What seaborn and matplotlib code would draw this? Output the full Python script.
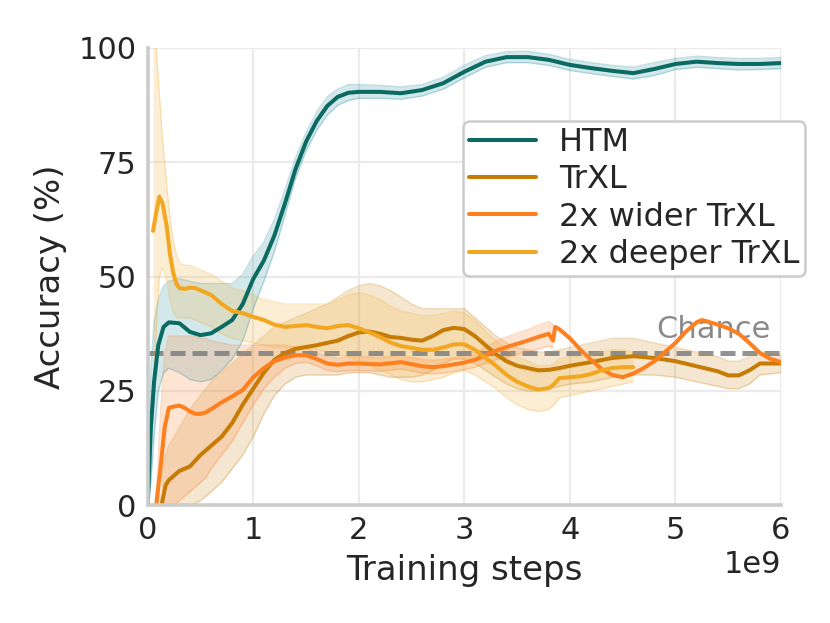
import numpy as np
import pandas as pd
import seaborn as sns
import matplotlib.pyplot as plt

# training steps are given in units of 1e9, accuracy in %
htm_x = [0.0, 0.03, 0.06, 0.1, 0.15, 0.2, 0.3, 0.4, 0.5, 0.6, 0.7, 0.8, 0.9, 1.0,
         1.1, 1.2, 1.3, 1.4, 1.5, 1.6, 1.7, 1.8, 1.9, 2.0,
         2.2, 2.4, 2.6, 2.8, 3.0, 3.2, 3.4, 3.6, 3.8, 4.0,
         4.2, 4.4, 4.6, 4.8, 5.0, 5.2, 5.4, 5.6, 5.8, 6.0]
htm_mean = [0, 17, 27, 35, 39, 40, 39.8, 37.9, 37.2, 37.6, 39, 40.5, 44, 49.5,
            53.5, 59, 66, 73.5, 79.5, 84, 87.3, 89.3, 90.2, 90.4,
            90.4, 90.1, 90.8, 92.3, 94.8, 97, 98, 98, 97.4, 96.3,
            95.6, 95, 94.5, 95.4, 96.5, 97, 96.7, 96.5, 96.5, 96.7]
htm_lo = [0, 5, 15, 25, 29, 30, 29, 27.5, 27, 27.5, 29.5, 32, 36, 43,
          49, 55.5, 63.5, 71.5, 77.5, 82, 85.3, 87.5, 88.5, 89,
          89, 88.8, 89.5, 91, 93.5, 95.8, 96.8, 96.8, 96.2, 95.1,
          94.4, 93.8, 93.2, 94, 95.3, 95.8, 95.5, 95.2, 95.3, 95.5]
htm_hi = [0, 30, 40, 45, 48, 49, 49.5, 49, 48.5, 48.5, 48.5, 48.5, 50.5, 54.5,
          57.5, 62.5, 69, 76, 81.5, 86, 89.3, 91, 92, 92,
          91.8, 91.5, 92, 93.6, 96.2, 98.3, 99.2, 99.3, 98.6, 97.5,
          96.8, 96.2, 95.8, 96.8, 97.7, 98.2, 97.9, 97.7, 97.7, 97.9]

trxl_x = [0.13, 0.17, 0.2, 0.3, 0.4, 0.5, 0.6, 0.7, 0.8, 0.9, 1.0,
          1.1, 1.2, 1.3, 1.4, 1.5, 1.6, 1.7, 1.8, 1.9, 2.0,
          2.1, 2.2, 2.3, 2.4, 2.5, 2.6, 2.7, 2.8, 2.9, 3.0,
          3.1, 3.2, 3.3, 3.4, 3.5, 3.6, 3.7, 3.8, 3.9, 4.0,
          4.2, 4.4, 4.6, 4.8, 5.0, 5.2, 5.4, 5.5, 5.6, 5.7, 5.8, 6.0]
trxl_mean = [0, 4.4, 5.5, 7.5, 8.5, 11, 13, 15, 18, 22, 25.5,
             29, 31.8, 33.3, 34.2, 34.6, 35, 35.5, 36, 37, 37.8,
             38, 37.5, 36.8, 36.6, 36.2, 36, 37, 38.3, 38.8, 38.5,
             37, 35, 33, 31.5, 30.5, 30, 29.5, 29.6, 30, 30.5,
             31.3, 32.2, 32.6, 32.2, 31.5, 30.4, 29.3, 28.4, 28.4, 29.5, 31, 31]
trxl_lo = [0, 0, 0, 0, 0, 1, 3, 5, 8, 11, 15,
           20, 24, 26.5, 28, 28.5, 28.5, 28.5, 28.5, 29, 29,
           29, 28.5, 28, 28, 28, 28.5, 29.5, 31, 32, 32,
           31, 29.5, 28, 26.5, 25.5, 25, 25, 25.5, 26, 26.5,
           27, 28, 28.5, 28.5, 28, 27, 26, 25.5, 25.5, 26.5, 28.5, 29]
trxl_hi = [6, 11, 13, 17, 21, 24, 27, 29, 31, 33, 35,
           37, 39, 40, 41, 42, 43, 44, 45.5, 47, 48,
           48.5, 48, 47, 45.5, 44, 43, 43, 43, 43, 43,
           41, 39, 37, 35.5, 34.5, 34, 33.5, 33.5, 34, 34.5,
           35.5, 36.5, 36.5, 35.5, 34.5, 33.5, 32.5, 31.5, 31.5, 32.5, 33.5, 33]

wide_x = [0.08, 0.12, 0.16, 0.2, 0.25, 0.3, 0.35, 0.4, 0.45, 0.5, 0.55, 0.6, 0.7, 0.8, 0.9, 1.0,
          1.1, 1.2, 1.3, 1.4, 1.5, 1.6, 1.7, 1.8, 1.9, 2.0,
          2.2, 2.4, 2.6, 2.7, 2.8, 3.0,
          3.1, 3.2, 3.3, 3.4, 3.5, 3.6, 3.7, 3.8, 3.84, 3.86, 3.9,
          4.0, 4.1, 4.2, 4.3, 4.4, 4.5, 4.6, 4.7, 4.8, 4.9,
          5.0, 5.1, 5.2, 5.25, 5.3, 5.4, 5.5, 5.6, 5.7, 5.8, 5.9, 6.0]
wide_mean = [0, 8, 17, 21.3, 21.6, 21.8, 21.3, 20.5, 20, 20, 20.3, 21, 22.5, 23.8, 25.2, 28,
             30, 31.5, 32.3, 32.8, 32.8, 32, 31, 30.7, 31, 31,
             30.8, 31.3, 30.4, 30.2, 30.4, 31.2,
             31.8, 32.8, 33.8, 34.6, 35.3, 36, 36.8, 37.5, 36, 39, 38.5,
             36.5, 34, 31.8, 29.8, 28.5, 28, 28.8, 30, 31.5, 33.5,
             35.5, 38, 40, 40.5, 40.2, 39.5, 38.7, 37.5, 35.5, 33.3, 32, 31.3]
wide_lo = [0, 0, 0, 0, 0, 1, 2, 3, 4, 5, 6, 8, 11, 14, 18, 22,
           25.5, 28, 30, 31, 31.3, 30.5, 29.5, 29.2, 29.5, 29.5,
           29.3, 29.8, 28.9, 28.7, 28.9, 29.7,
           30.2, 31, 31.8, 32.4, 33, 33.6, 34.2, 34.8, 34.5] + [np.nan] * 24
wide_hi = [0, 20, 33, 37, 37, 37, 37, 37, 37, 36.5, 36.5, 36, 35.5, 35, 35, 35,
           35, 35, 35, 34.6, 34.3, 33.5, 32.5, 32.2, 32.5, 32.5,
           32.3, 32.8, 31.9, 31.7, 31.9, 32.7,
           33.4, 34.6, 35.8, 36.8, 37.6, 38.4, 39.4, 40.2, 39.5] + [np.nan] * 24

deep_x = [0.05, 0.08, 0.11, 0.14, 0.18, 0.21, 0.24, 0.27, 0.3, 0.35, 0.4, 0.45, 0.5,
          0.6, 0.7, 0.8, 0.9, 1.0, 1.1, 1.2, 1.3, 1.4, 1.5, 1.6, 1.7, 1.8, 1.9, 2.0,
          2.1, 2.2, 2.3, 2.4, 2.5, 2.6, 2.7, 2.8, 2.9, 3.0,
          3.1, 3.2, 3.3, 3.4, 3.5, 3.6, 3.7, 3.8, 3.85, 3.9,
          4.0, 4.1, 4.2, 4.3, 4.4, 4.5, 4.6]
deep_mean = [60, 64, 67.5, 66, 61, 55, 51, 48.5, 47.5, 47.3, 47.6, 47.5, 47,
             46, 44, 42.5, 42, 41.2, 40.5, 39.5, 39, 39.2, 39.4, 39, 38.7, 39.2, 39.4, 38.7,
             37.8, 36.8, 35.6, 34.8, 34.4, 34, 34, 34.5, 35.2, 35.2,
             34, 32.2, 30.5, 28.5, 27, 26, 25.3, 25.6, 26.5, 27.8,
             28, 28.2, 28.7, 29.5, 30, 30.2, 30.2]
deep_lo = [25, 38, 50, 52, 49, 45, 42.5, 41, 41, 41, 41, 40.5, 40,
           39, 37.5, 36.5, 36, 35.5, 35, 34.5, 34.5, 34.5, 34.5, 34, 33.5, 33, 32.5, 31.5,
           30.5, 29.5, 28.5, 27.5, 27, 27, 27.5, 28, 29, 29.5,
           28.5, 27, 25.5, 23.5, 22, 21, 20.5, 21, 22, 23.5,
           24, 24.5, 25, 25.5, 26, 26.5, 27]
deep_hi = [105, 100, 90, 80, 70, 63, 58, 55, 53, 52.5, 52.5, 52, 51.5,
           50.5, 49, 47.5, 47, 46, 45, 44.5, 44, 44, 44, 44, 44, 45, 46, 46.5,
           46, 45, 43.5, 42.5, 42, 41.5, 41.5, 42, 42.5, 42,
           40.5, 38, 36, 34, 32.5, 31.5, 30.5, 30.5, 31, 32,
           32.5, 32.5, 33, 33.5, 34, 34, 33.5]

labels = ['HTM', 'TrXL', '2x wider TrXL', '2x deeper TrXL']
colors = ['#0b6b63', '#c67c04', '#fe7f1e', '#f3a720']
band_colors = ['#3a98a8', '#d08f2a', '#fe8a3a', '#f5b440']
chance = 100 / 3

sns.set_theme(style='whitegrid')
plt.rcParams['font.family'] = ['DejaVu Sans']

series = [(htm_x, htm_mean, htm_lo, htm_hi),
          (trxl_x, trxl_mean, trxl_lo, trxl_hi),
          (wide_x, wide_mean, wide_lo, wide_hi),
          (deep_x, deep_mean, deep_lo, deep_hi)]
frames = []
for name, (x, m, lo, hi) in zip(labels, series):
    frames.append(pd.DataFrame({'step': np.array(x) * 1e9, 'acc': m,
                                'lo': lo, 'hi': hi, 'model': name}))
df = pd.concat(frames, ignore_index=True)

fig, ax = plt.subplots(figsize=(8.3, 6.23), dpi=100)
fig.subplots_adjust(left=0.178, right=0.941, bottom=0.189, top=0.923)

# shaded bands
for name, col in zip(labels, band_colors):
    d = df[df.model == name]
    ax.fill_between(d.step, d.lo, d.hi, color=col, alpha=0.22, lw=0)
    ax.plot(d.step, d.lo, color=col, alpha=0.3, lw=1)
    ax.plot(d.step, d.hi, color=col, alpha=0.3, lw=1)

ax.axhline(chance, color='#7f7f7f', ls=(0, (3, 1.4)), lw=3.6, alpha=0.85, zorder=1.8)
ax.text(4.82e9, 35.3, 'Chance', color='#8a8a8a', fontsize=22, va='bottom', zorder=1.9)

sns.lineplot(data=df, x='step', y='acc', hue='model', hue_order=labels,
             palette=dict(zip(labels, colors)), estimator=None, sort=False,
             lw=2.9, ax=ax)

ax.set_xlim(0, 6e9)
ax.set_ylim(0, 100)
ax.set_xticks(np.arange(0, 7) * 1e9)
ax.set_yticks([0, 25, 50, 75, 100])
ax.set_xlabel('Training steps', fontsize=24.5, labelpad=6)
ax.set_ylabel('Accuracy (%)', fontsize=24.5, labelpad=8)
ax.tick_params(labelsize=22, length=0, pad=8, colors='#262626')
ax.xaxis.get_offset_text().set_fontsize(22)
ax.grid(color='#ebebeb', lw=1.6)
sns.despine(ax=ax)
for s in ['left', 'bottom']:
    ax.spines[s].set_color('#cccccc')
    ax.spines[s].set_linewidth(2.6)

sns.move_legend(ax, 'upper right', bbox_to_anchor=(1.038, 0.84), title=None,
                fontsize=23, labelspacing=0.2, handlelength=2.1,
                handletextpad=0.72, borderpad=0.18, borderaxespad=0,
                frameon=True, edgecolor='#cccccc', framealpha=1)
leg = ax.get_legend()
leg.get_frame().set_linewidth(1.8)
for h in leg.legend_handles:
    h.set_linewidth(2.9)

plt.savefig('out.png', dpi=100)
